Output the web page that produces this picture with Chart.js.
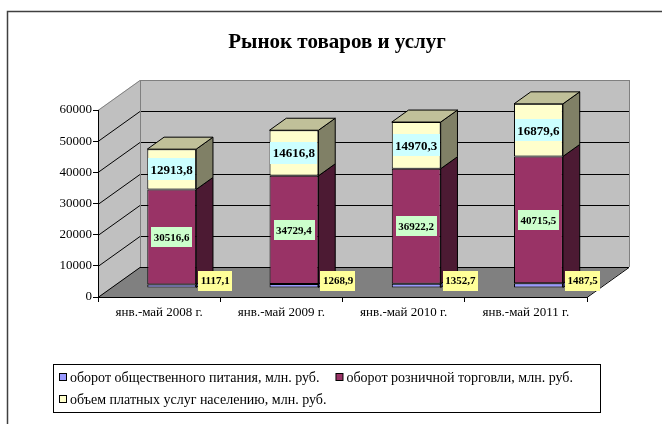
<!DOCTYPE html>
<html>
<head>
<meta charset="utf-8">
<title>Рынок товаров и услуг</title>
<script src="https://cdn.jsdelivr.net/npm/chart.js@4.4.1/dist/chart.umd.min.js"></script>
<style>
body { margin: 0; background: #fff; }
#wrap { position: relative; width: 662px; height: 424px; }
</style>
</head>
<body>
<div id="wrap"><canvas id="myChart"></canvas></div>
<script>
// data
var categories = ['янв.-май 2008 г.', 'янв.-май 2009 г.', 'янв.-май 2010 г.', 'янв.-май 2011 г.'];
var cateringValues = [1117.1, 1268.9, 1352.7, 1487.5];
var retailValues = [30516.6, 34729.4, 36922.2, 40715.5];
var servicesValues = [12913.8, 14616.8, 14970.3, 16879.6];
var seriesNames = ['оборот общественного питания, млн. руб.', 'оборот розничной торговли, млн. руб.', 'объем платных услуг населению, млн. руб.'];
var yTicks = [0, 10000, 20000, 30000, 40000, 50000, 60000];
var titleText = 'Рынок товаров и услуг';

var FONT = "'Liberation Serif', 'Times New Roman', serif";
var frontColors = ['#9999ff', '#993366', '#ffffcc'];
var sideColors = ['#4c4c80', '#4c1a33', '#808066'];
var topColors = ['#7373bf', '#732650', '#c0c099'];
var labelBg = ['#ffff99', '#ccffcc', '#ccffff'];
var labelSize = [11, 11, 13];

// 3d depth of the plot box, bars sit between 0.3 and 0.7 of it
var DX = 42, DY = -30;
var BAR_FRONT = 0.3, BAR_DEPTH = 0.4;

function fmt(v) { return v.toFixed(1).replace('.', ','); }

function poly(ctx, pts, fill, stroke) {
  ctx.beginPath();
  ctx.moveTo(pts[0][0], pts[0][1]);
  for (var i = 1; i < pts.length; i++) ctx.lineTo(pts[i][0], pts[i][1]);
  ctx.closePath();
  if (fill) { ctx.fillStyle = fill; ctx.fill(); }
  if (stroke) { ctx.strokeStyle = stroke; ctx.lineWidth = 1; ctx.stroke(); }
}

var walls = {
  id: 'walls',
  beforeDraw: function(chart) {
    var ctx = chart.ctx, a = chart.chartArea, ys = chart.scales.y;
    var L = a.left, R = a.right, T = a.top, B = a.bottom;
    ctx.save();
    poly(ctx, [[L + DX, T + DY], [R + DX, T + DY], [R + DX, B + DY], [L + DX, B + DY]], '#c0c0c0');
    poly(ctx, [[L, T], [L + DX, T + DY], [L + DX, B + DY], [L, B]], '#c0c0c0');
    poly(ctx, [[L, B], [R, B], [R + DX, B + DY], [L + DX, B + DY]], '#808080');
    ctx.lineWidth = 1;
    yTicks.forEach(function(v, i) {
      var py = Math.round(ys.getPixelForValue(v)) + 0.5;
      ctx.strokeStyle = i === yTicks.length - 1 ? '#808080' : '#000';
      ctx.beginPath();
      ctx.moveTo(L, py);
      ctx.lineTo(L + DX, py + DY);
      ctx.lineTo(R + DX, py + DY);
      ctx.stroke();
    });
    ctx.strokeStyle = '#808080';
    ctx.beginPath();
    ctx.moveTo(L + DX + 0.5, T + DY);
    ctx.lineTo(L + DX + 0.5, B + DY);
    ctx.moveTo(R + DX + 0.5, T + DY);
    ctx.lineTo(R + DX + 0.5, B + DY);
    ctx.stroke();
    ctx.strokeStyle = '#000';
    ctx.beginPath();
    ctx.moveTo(R, B + 0.5);
    ctx.lineTo(R + DX, B + DY + 0.5);
    ctx.stroke();
    ctx.restore();
  }
};

var bars3d = {
  id: 'bars3d',
  beforeDatasetsDraw: function(chart) {
    chart.ctx.save();
    chart.ctx.translate(DX * BAR_FRONT, DY * BAR_FRONT);
  },
  afterDatasetsDraw: function(chart) {
    var ctx = chart.ctx;
    ctx.restore();
    var ox = DX * BAR_FRONT, oy = DY * BAR_FRONT;
    var bx = DX * BAR_DEPTH, by = DY * BAR_DEPTH;
    var n = chart.data.datasets.length;
    ctx.save();
    for (var d = 0; d < n; d++) {
      chart.getDatasetMeta(d).data.forEach(function(el) {
        var p = el.getProps(['x', 'y', 'base', 'width'], true);
        var l = p.x - p.width / 2 + ox, r = p.x + p.width / 2 + ox;
        var t = p.y + oy, b = p.base + oy;
        poly(ctx, [[r, t], [r + bx, t + by], [r + bx, b + by], [r, b]], sideColors[d], '#000');
        if (d === n - 1) {
          poly(ctx, [[l, t], [r, t], [r + bx, t + by], [l + bx, t + by]], topColors[d], '#000');
        }
      });
    }
    ctx.textAlign = 'center';
    ctx.textBaseline = 'middle';
    for (var d = 0; d < n; d++) {
      var ds = chart.data.datasets[d];
      ctx.font = 'bold ' + labelSize[d] + 'px ' + FONT;
      chart.getDatasetMeta(d).data.forEach(function(el, i) {
        var p = el.getProps(['x', 'y', 'base', 'width'], true);
        var l = p.x - p.width / 2 + ox, r = p.x + p.width / 2 + ox;
        var t = p.y + oy, b = p.base + oy;
        var txt = fmt(ds.data[i]);
        var w = ctx.measureText(txt).width + 5, h = d === 2 ? 22 : 20;
        var cx, cy;
        if (d === 0) { cx = r + 2 + w / 2; cy = b - 7; }
        else { cx = (l + r) / 2; cy = (t + b) / 2; }
        ctx.fillStyle = labelBg[d];
        ctx.fillRect(Math.round(cx - w / 2), Math.round(cy - h / 2), Math.round(w), h);
        ctx.fillStyle = '#000';
        ctx.fillText(txt, cx, cy + 1);
      });
    }
    ctx.restore();
  }
};

var decor = {
  id: 'decor',
  afterDraw: function(chart) {
    var ctx = chart.ctx;
    ctx.save();
    // title, centred over the plot box
    ctx.fillStyle = '#000';
    ctx.font = 'bold 21px ' + FONT;
    ctx.textAlign = 'center';
    ctx.textBaseline = 'middle';
    ctx.fillText(titleText, 337, 43);
    // legend box
    ctx.strokeStyle = '#000';
    ctx.lineWidth = 1;
    ctx.strokeRect(53.5, 364.5, 547, 48);
    ctx.font = '14px ' + FONT;
    ctx.textAlign = 'left';
    var x = 59, y = 377;
    chart.data.datasets.forEach(function(ds, i) {
      if (i === 2) { x = 59; y = 399; }
      ctx.fillStyle = frontColors[i];
      ctx.fillRect(x + 0.5, y - 3.5, 7, 7);
      ctx.strokeRect(x + 0.5, y - 3.5, 7, 7);
      ctx.fillStyle = '#000';
      ctx.fillText(ds.label, x + 11, y + 1);
      x += 11 + ctx.measureText(ds.label).width + 16;
    });
    // outer frame of the picture
    ctx.strokeStyle = '#404040';
    ctx.lineWidth = 1.5;
    ctx.beginPath();
    ctx.moveTo(7.5, 424);
    ctx.lineTo(7.5, 11.5);
    ctx.lineTo(662, 11.5);
    ctx.stroke();
    ctx.restore();
  }
};

var values = [cateringValues, retailValues, servicesValues];
var datasets = values.map(function(arr, i) {
  return {
    label: seriesNames[i],
    data: arr,
    backgroundColor: frontColors[i],
    borderColor: '#000',
    borderWidth: 1,
    borderSkipped: false,
    categoryPercentage: 1,
    barPercentage: 0.4,
    clip: false
  };
});

var ctx = document.getElementById('myChart').getContext('2d');
var chart = new Chart(ctx, {
  type: 'bar',
  data: { labels: categories, datasets: datasets },
  options: {
    responsive: true,
    maintainAspectRatio: false,
    animation: false,
    layout: { padding: { left: 48, right: 75, top: 110, bottom: 97 } },
    plugins: {
      legend: { display: false },
      tooltip: { enabled: false },
      title: { display: false }
    },
    scales: {
      x: {
        stacked: true,
        grid: { drawOnChartArea: false, offset: true, color: '#000', tickLength: 5 },
        border: { display: true, color: '#000' },
        ticks: { color: '#000', font: { family: FONT, size: 13 }, padding: 3, maxRotation: 0 },
        afterFit: function(s) { s.height = 30; }
      },
      y: {
        stacked: true,
        min: 0,
        max: 60000,
        afterBuildTicks: function(s) { s.ticks = yTicks.map(function(v) { return { value: v }; }); },
        grid: { drawOnChartArea: false, color: '#000', tickLength: 5 },
        border: { display: true, color: '#000' },
        ticks: { color: '#000', font: { family: FONT, size: 13 }, padding: 1, callback: function(v) { return String(v); } },
        afterFit: function(s) { s.width = 50; }
      }
    }
  },
  plugins: [walls, bars3d, decor]
});
</script>
</body>
</html>
